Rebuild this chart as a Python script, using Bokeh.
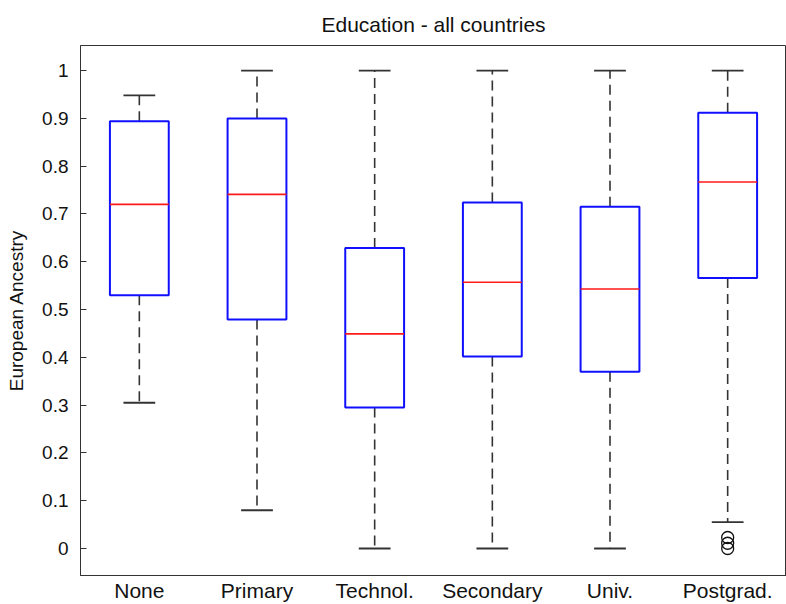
from bokeh.plotting import figure
from bokeh.models import FixedTicker, Range1d, ColumnDataSource
from bokeh.embed import file_html
from bokeh.resources import INLINE

# Education level groups and their box-plot statistics (European ancestry fraction)
categories = ["None", "Primary", "Technol.", "Secondary", "Univ.", "Postgrad."]
upper_whisker = [0.948, 1.0, 1.0, 1.0, 1.0, 1.0]
q3 = [0.894, 0.900, 0.629, 0.724, 0.715, 0.912]
median = [0.720, 0.741, 0.449, 0.557, 0.543, 0.767]
q1 = [0.530, 0.479, 0.295, 0.402, 0.370, 0.566]
lower_whisker = [0.305, 0.080, 0.0, 0.0, 0.0, 0.055]

# Points beyond the whiskers
outlier_group = ["Postgrad.", "Postgrad.", "Postgrad."]
outlier_value = [0.0, 0.011, 0.023]

y_ticks = [0, 0.1, 0.2, 0.3, 0.4, 0.5, 0.6, 0.7, 0.8, 0.9, 1]
y_tick_labels = ["0", "0.1", "0.2", "0.3", "0.4", "0.5", "0.6", "0.7", "0.8", "0.9", "1"]

FONT = "Liberation Sans"
BOX_W = 0.5
CAP_W = 0.27

pos = [i + 1 for i in range(len(categories))]
src = ColumnDataSource(dict(
    x=pos,
    left=[p - BOX_W / 2 for p in pos],
    right=[p + BOX_W / 2 for p in pos],
    cap_l=[p - CAP_W / 2 for p in pos],
    cap_r=[p + CAP_W / 2 for p in pos],
    upper=upper_whisker, q3=q3, med=median, q1=q1, lower=lower_whisker,
))
out_src = ColumnDataSource(dict(
    x=[categories.index(g) + 1 for g in outlier_group],
    y=outlier_value,
))

p = figure(
    width=786, height=604,
    x_range=Range1d(0.5, 6.5), y_range=Range1d(-0.0565, 1.0525),
    output_backend="svg", toolbar_location=None,
    min_border_left=80, min_border_right=0,
    min_border_top=45, min_border_bottom=29,
    title="Education - all countries",
)
p.title.text_font = FONT
p.title.text_font_size = "21px"
p.title.text_font_style = "normal"
p.title.text_color = "#111111"
p.title.align = "center"
p.title.vertical_align = "middle"
p.title.standoff = 17

p.xgrid.visible = False
p.ygrid.visible = False
p.outline_line_color = "#333333"
p.outline_line_width = 1
p.background_fill_color = "white"
p.border_fill_color = "white"

# Whiskers (dashed) and caps
p.segment(x0="x", y0="q3", x1="x", y1="upper", source=src,
          line_color="#333333", line_width=1.6, line_dash="10 6")
p.segment(x0="x", y0="q1", x1="x", y1="lower", source=src,
          line_color="#333333", line_width=1.6, line_dash="10 6")
p.segment(x0="cap_l", y0="upper", x1="cap_r", y1="upper", source=src,
          line_color="#333333", line_width=1.8)
p.segment(x0="cap_l", y0="lower", x1="cap_r", y1="lower", source=src,
          line_color="#333333", line_width=1.8)

# Boxes and medians
p.quad(left="left", right="right", bottom="q1", top="q3", source=src,
       fill_color="white", line_color="#1010ff", line_width=2)
p.segment(x0="left", y0="med", x1="right", y1="med", source=src,
          line_color="#ff1a1a", line_width=1.6)

# Outliers
p.scatter(x="x", y="y", source=out_src, marker="circle", size=12,
          fill_color=None, line_color="#111111", line_width=1.3)

# Bottom axis: group names, no tick marks
xa = p.xaxis[0]
xa.ticker = FixedTicker(ticks=pos)
xa.major_label_overrides = {p_: c for p_, c in zip(pos, categories)}
xa.major_tick_line_color = None
xa.major_tick_in = 0
xa.major_tick_out = 0
xa.minor_tick_line_color = None
xa.axis_line_color = "#333333"
xa.major_label_text_font = FONT
xa.major_label_text_font_size = "21px"
xa.major_label_text_color = "#111111"
xa.major_label_standoff = 3

# Left axis with inward ticks
ya = p.yaxis[0]
ya.ticker = FixedTicker(ticks=y_ticks)
ya.major_label_overrides = {t: l for t, l in zip(y_ticks, y_tick_labels)}
ya.major_tick_in = 6
ya.major_tick_out = 0
ya.minor_tick_line_color = None
ya.axis_line_color = "#333333"
ya.major_tick_line_color = "#333333"
ya.major_label_text_font = FONT
ya.major_label_text_font_size = "19px"
ya.major_label_text_color = "#111111"
ya.major_label_standoff = 12
ya.axis_label = "European Ancestry"
ya.axis_label_text_font = FONT
ya.axis_label_text_font_size = "19px"
ya.axis_label_text_font_style = "normal"
ya.axis_label_text_color = "#111111"
ya.axis_label_standoff = 12

open("out.html", "w").write(file_html(p, INLINE))
